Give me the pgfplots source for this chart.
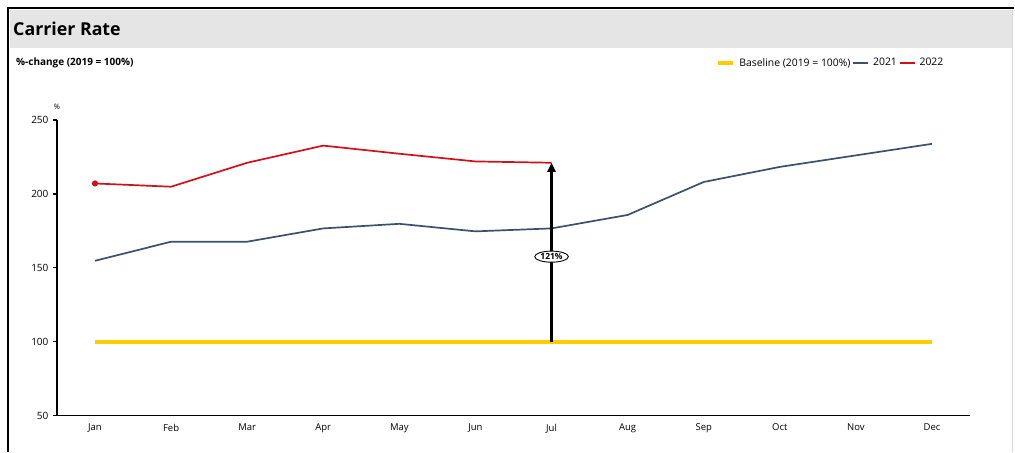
\documentclass[border=0pt]{standalone}
\usepackage{pgfplots}
\pgfplotsset{compat=1.18}
\usepackage{fontspec}
\setmainfont{Open Sans}
\usetikzlibrary{arrows.meta,shapes.geometric}

\definecolor{baseyellow}{HTML}{FFCC00}
\definecolor{slateblue}{HTML}{3B5070}
\definecolor{carred}{HTML}{D0101B}
\definecolor{bandgray}{HTML}{E5E5E5}
\definecolor{edgegray}{HTML}{D8D8D8}

\begin{document}
\begin{tikzpicture}
% canvas and panel frame
\fill[white] (0pt,0pt) rectangle (1015pt,452pt);
\fill[bandgray] (10pt,404pt) rectangle (1013pt,442pt);
\draw[edgegray, line width=1pt] (1013pt,442pt) -- (1013pt,0pt);
\draw[black, line width=2pt] (8pt,0pt) -- (8pt,444pt) -- (1015pt,444pt);
\node[anchor=base west, font=\fontsize{17.8}{20}\selectfont\bfseries, inner sep=0pt] at (13pt,416pt) {Carrier Rate};
\node[anchor=west, font=\fontsize{10}{12}\selectfont\bfseries, inner sep=0pt] at (16pt,389pt) {\%-change (2019 = 100\%)};

\begin{axis}[
  at={(57pt,36pt)}, anchor=south west,
  scale only axis, width=914pt, height=296pt,
  xmin=-0.5, xmax=11.5, ymin=50, ymax=250,
  axis x line=bottom, axis y line=left,
  axis line style={line width=1.5pt, -},
  xtick={0,...,11},
  xticklabels={Jan,Feb,Mar,Apr,May,Jun,Jul,Aug,Sep,Oct,Nov,Dec},
  ytick={50,100,150,200,250},
  major x tick style={draw=none},
  y tick style={line width=1.5pt, black},
  tick align=outside, major tick length=4pt,
  x tick label style={font=\fontsize{9.5}{11}\selectfont, yshift=-1pt},
  y tick label style={font=\fontsize{10}{11}\selectfont, xshift=-1pt},
  /pgf/number format/assume math mode=true,
  clip=false,
  legend columns=-1,
  legend style={at={(0.722,1.193)}, anchor=west, draw=none, fill=none,
    font=\fontsize{10.4}{12}\selectfont, inner sep=0pt,
    /tikz/every odd column/.append style={column sep=2pt}},
  legend image code/.code={\draw[#1] (0pt,0pt) -- (15pt,0pt);},
]
% baseline level
\addplot[baseyellow, line width=4pt] coordinates {(0,100) (11,100)};
\addlegendentry{Baseline (2019 = 100\%)}
% 2021
\addplot[slateblue, line width=1.7pt] coordinates {
  (0,154.7) (1,167.6) (2,167.6) (3,176.6) (4,179.7) (5,174.6)
  (6,176.6) (7,185.7) (8,208.0) (9,218.2) (10,226.0) (11,233.8)};
\addlegendentry{2021}
% 2022
\addplot[carred, line width=1.7pt, mark=*, mark indices={1}, mark size=2.2pt,
  mark options={fill=carred, draw=carred}] coordinates {
  (0,207) (1,204.8) (2,221) (3,232.6) (4,227.1) (5,221.9) (6,221)};
\addlegendentry{2022}
% change from the baseline in July
\draw[black, line width=2.6pt, -{Triangle[length=9pt,width=8pt]}]
  (axis cs:6,100) -- (axis cs:6,221);
\node[draw, ellipse, fill=white, line width=0.9pt, inner sep=0.8pt,
  font=\fontsize{8.5}{10}\selectfont\bfseries] at (axis cs:6,157.5) {121\%};
\node[anchor=south, font=\fontsize{7.5}{8}\selectfont, inner sep=0pt] at (axis cs:-0.5,257) {\%};
\end{axis}
\end{tikzpicture}
\end{document}
